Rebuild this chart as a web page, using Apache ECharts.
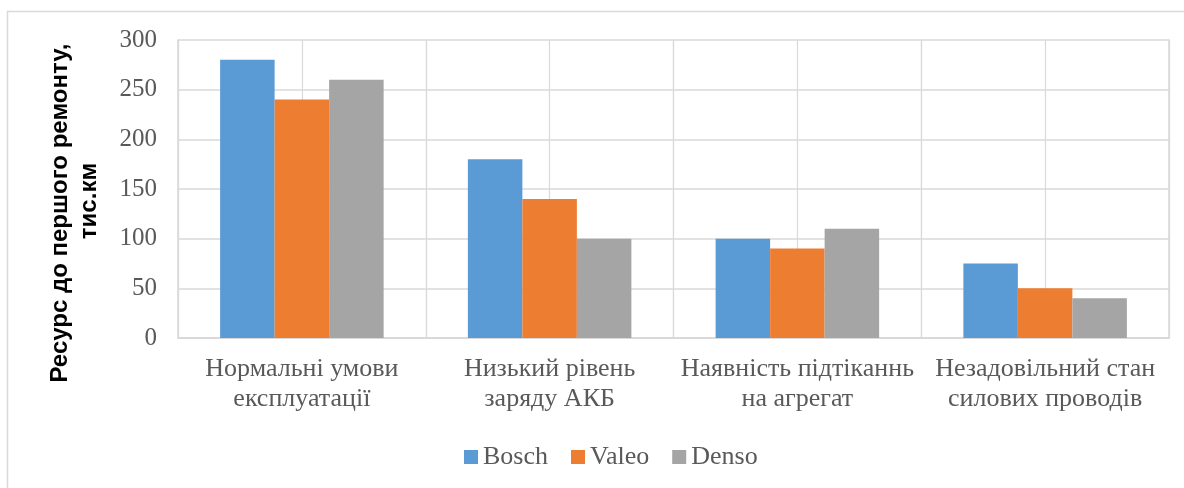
<!DOCTYPE html>
<html>
<head>
<meta charset="utf-8">
<script src="https://cdn.jsdelivr.net/npm/echarts@6/dist/echarts.min.js"></script>
<style>
  html, body { margin: 0; padding: 0; background: #fff; }
  #main { width: 1184px; height: 488px; }
</style>
</head>
<body>
<div id="main"></div>
<script>
// categories and values
var categories = ['Нормальні умови\nексплуатації', 'Низький рівень\nзаряду АКБ', 'Наявність підтіканнь\nна агрегат', 'Незадовільний стан\nсилових проводів'];
var bosch = [280, 180, 100, 75];
var valeo = [240, 140, 90, 50];
var denso = [260, 100, 110, 40];
var yTicks = { min: 0, max: 300, interval: 50 };
var yTitle = ['Ресурс до першого ремонту,', 'тис.км'];

var chart = echarts.init(document.getElementById('main'));

var serif = 'Liberation Serif';
var grey = '#D9D9D9';

function titleLine(text, x, y) {
    return {
        type: 'text',
        x: x, y: y,
        rotation: Math.PI / 2,
        style: {
            text: text,
            font: 'bold 24px "Liberation Sans"',
            fill: '#000',
            textAlign: 'center',
            textVerticalAlign: 'middle'
        }
    };
}

var option = {
    animation: false,
    graphic: [{
        type: 'rect',
        shape: { x: 7.5, y: 11.5, width: 1300, height: 600 },
        style: { fill: 'none', stroke: grey, lineWidth: 1.5 },
        z: -1
    },
    titleLine(yTitle[0], 60, 213),
    titleLine(yTitle[1], 89, 201)
    ],
    legend: {
        data: ['Bosch', 'Valeo', 'Denso'],
        top: 439,
        left: 459,
        itemWidth: 14,
        itemHeight: 14,
        itemGap: 23,
        icon: 'rect',
        textStyle: { fontFamily: serif, fontSize: 26, color: '#595959' }
    },
    grid: { left: 178, right: 15, top: 40, bottom: 150 },
    xAxis: [{
        type: 'category',
        data: categories,
        axisLine: { lineStyle: { color: grey, width: 1.5 } },
        axisTick: { show: false },
        splitLine: { show: true, lineStyle: { color: grey, width: 1.2 } },
        axisLabel: {
            fontFamily: serif, fontSize: 26, color: '#595959',
            lineHeight: 30, margin: 16, interval: 0
        }
    }, {
        type: 'value',
        min: 0, max: 8, interval: 1,
        position: 'top',
        axisLine: { show: true, lineStyle: { color: grey, width: 1.5 } },
        axisTick: { show: false },
        axisLabel: { show: false },
        splitLine: { show: true, lineStyle: { color: grey, width: 1.2 } }
    }],
    yAxis: [{
        type: 'value',
        min: yTicks.min, max: yTicks.max, interval: yTicks.interval,
        axisLine: { show: true, lineStyle: { color: grey, width: 1.5 } },
        axisTick: { show: false },
        splitLine: { lineStyle: { color: grey, width: 1.5 } },
        axisLabel: { fontFamily: serif, fontSize: 25, color: '#595959', margin: 21 }
    }, {
        type: 'value',
        min: yTicks.min, max: yTicks.max, interval: yTicks.interval,
        position: 'right',
        axisLine: { show: true, lineStyle: { color: grey, width: 1.5 } },
        axisTick: { show: false },
        axisLabel: { show: false },
        splitLine: { show: false }
    }],
    series: [
        { name: 'Bosch', type: 'bar', data: bosch, itemStyle: { color: '#5B9BD5' }, barGap: '0%', barCategoryGap: '34%' },
        { name: 'Valeo', type: 'bar', data: valeo, itemStyle: { color: '#ED7D31' } },
        { name: 'Denso', type: 'bar', data: denso, itemStyle: { color: '#A5A5A5' } }
    ]
};

chart.setOption(option);
</script>
</body>
</html>
